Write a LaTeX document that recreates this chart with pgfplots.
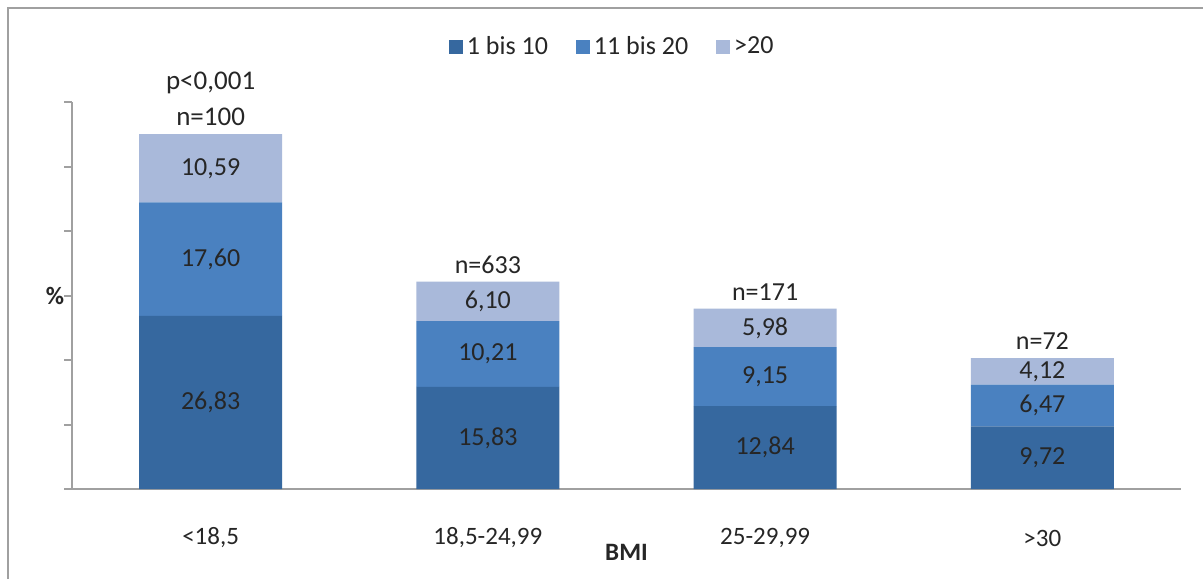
\documentclass[border=0pt]{standalone}
\usepackage{pgfplots}
\usepackage{pgfplotstable}
\pgfplotsset{compat=1.18}
\usepackage{fontspec}
\setmainfont{Carlito}
\definecolor{cA}{RGB}{54,104,159}
\definecolor{cB}{RGB}{74,129,192}
\definecolor{cC}{RGB}{169,185,218}
\definecolor{axgray}{RGB}{160,160,160}
\definecolor{txt}{RGB}{38,38,38}
\pgfplotstableread{
x d1 d2 d3 tot
0 26.83 17.60 10.59 55.02
1 15.83 10.21 6.10 32.14
2 12.84 9.15 5.98 27.97
3 9.72 6.47 4.12 20.31
}\datatab
\pgfplotsset{
  seglabel/.style={
    nodes near coords={\pgfmathprintnumber[fixed,fixed zerofill,precision=2,use comma,assume math mode=true]{\pgfplotspointmeta}},
    point meta={\thisrow{#1}},
    every node near coord/.style={anchor=center,
      font=\fontsize{13}{15}\selectfont, text=txt}
  }
}
\begin{document}
\begin{tikzpicture}
\useasboundingbox (0,0) rectangle (601.5pt,289.5pt);
\fill[white] (0,0) rectangle (601.5pt,289.5pt);
\draw[axgray, line width=1pt] (4pt,0) -- (4pt,285.5pt) -- (602pt,285.5pt);
\begin{axis}[
  at={(36pt,45pt)}, anchor=south west,
  scale only axis, width=554.5pt, height=193.5pt,
  ybar stacked, bar width=71.5pt,
  xmin=-0.5, xmax=3.5, ymin=0, ymax=60,
  axis lines*=left,
  axis line style={axgray, line width=1pt},
  xtick={0,1,2,3},
  xticklabels={{<18,5}, {18,5-24,99}, {25-29,99}, {>30}},
  xtick style={draw=none},
  xticklabel style={anchor=center, yshift=-20.5pt, font=\fontsize{12.5}{14}\selectfont, text=txt},
  ytick={0,10,...,60}, yticklabels={},
  tick align=outside,
  ytick style={axgray, line width=1pt},
  major tick length=4pt,
  xlabel={\textbf{BMI}},
  xlabel style={at={(axis description cs:0.5,0)}, anchor=center, yshift=-31.5pt, font=\fontsize{12.5}{14}\selectfont, text=txt},
  ylabel={\textbf{\%}},
  ylabel style={rotate=-90, at={(axis description cs:0,0.5)}, anchor=center, xshift=-8.5pt, font=\fontsize{12.5}{14}\selectfont, text=txt},
  legend style={at={(axis description cs:0.488,1.142)}, anchor=center, draw=none, fill=none,
    legend columns=3, font=\fontsize{13}{15}\selectfont, text=txt,
    /tikz/every even column/.append style={column sep=12pt}},
  legend image code/.code={\fill (0pt,-3.5pt) rectangle (7pt,3.5pt);},
  clip=false,
]
\addplot[fill=cA, draw=none, seglabel=d1] table[x=x, y=d1] {\datatab};
\addplot[fill=cB, draw=none, seglabel=d2] table[x=x, y=d2] {\datatab};
\addplot[fill=cC, draw=none, seglabel=d3] table[x=x, y=d3] {\datatab};
\legend{1 bis 10, 11 bis 20, >20}
\node[anchor=south, align=center, font=\fontsize{13.5}{18}\selectfont, text=txt, inner sep=0pt] at (axis cs:0,55.02) [yshift=4pt] {p<0,001\\n=100};
\node[anchor=south, font=\fontsize{13}{15}\selectfont, text=txt, inner sep=0pt] at (axis cs:1,32.14) [yshift=4pt] {n=633};
\node[anchor=south, font=\fontsize{13}{15}\selectfont, text=txt, inner sep=0pt] at (axis cs:2,27.97) [yshift=4pt] {n=171};
\node[anchor=south, font=\fontsize{13}{15}\selectfont, text=txt, inner sep=0pt] at (axis cs:3,20.31) [yshift=4pt] {n=72};
\end{axis}
\end{tikzpicture}
\end{document}
